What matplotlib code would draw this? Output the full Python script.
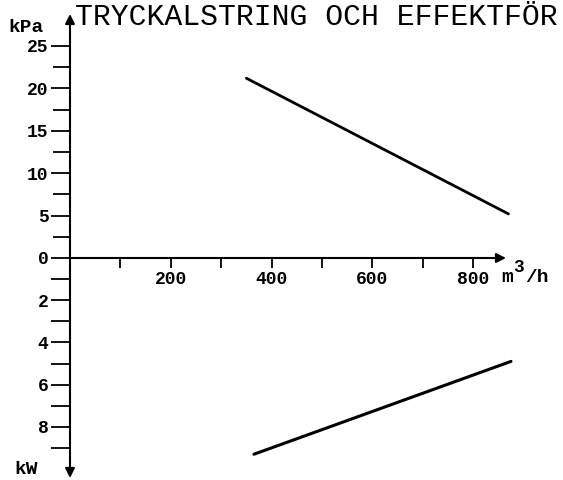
import matplotlib
matplotlib.use("Agg")
import matplotlib.pyplot as plt
from matplotlib.ticker import FixedLocator

# ---- data ----
flow_pressure = [350, 870]      # m3/h
pressure_kpa = [21.2, 5.2]      # kPa
flow_power = [365, 875]         # m3/h
power_kw = [9.3, 4.9]           # kW

x_ticks = [100, 200, 300, 400, 500, 600, 700, 800]
x_ticklabels = ["", "200", "", "400", "", "600", "", "800"]
kpa_major = [0, 5, 10, 15, 20, 25]
kpa_minor = [2.5, 7.5, 12.5, 17.5, 22.5]
kw_ticks = [1, 2, 3, 4, 5, 6, 7, 8, 9]
kw_ticklabels = ["", "2", "", "4", "", "6", "", "8", ""]
title = "TRYCKALSTRING OCH EFFEKTFÖR"

W, H = 563, 480
FONT = "Liberation Mono"

fig = plt.figure(figsize=(W / 100, H / 100), dpi=100)

# pixel geometry
x0_px, px_per_flow = 70, 0.504
y0_px = 258
px_per_kpa = 8.48
px_per_kw = 21.1

xlim = (-x0_px / px_per_flow, (W - x0_px) / px_per_flow)

ax_top = fig.add_axes([0, (H - y0_px) / H, 1, y0_px / H])
ax_bot = fig.add_axes([0, 0, 1, (H - y0_px) / H])

ax_top.set_xlim(*xlim)
ax_top.set_ylim(0, y0_px / px_per_kpa)
ax_bot.set_xlim(*xlim)
ax_bot.set_ylim((H - y0_px) / px_per_kw, 0)

for ax in (ax_top, ax_bot):
    for s in ax.spines.values():
        s.set_visible(False)
    ax.patch.set_visible(False)

lw_axis = 1.5
arrow = dict(arrowstyle="-|>", lw=lw_axis, color="black",
             mutation_scale=14, shrinkA=0, shrinkB=0)
# vertical axis (kPa up)
ax_top.annotate("", xy=(0, (y0_px - 14) / px_per_kpa), xytext=(0, 0),
                arrowprops=arrow)
# vertical axis (kW down)
ax_bot.annotate("", xy=(0, (478 - y0_px) / px_per_kw), xytext=(0, 0),
                arrowprops=arrow)
# horizontal axis
ax_top.annotate("", xy=((506 - x0_px) / px_per_flow, 0), xytext=(0, 0),
                arrowprops=arrow, annotation_clip=False)

# ticks: top axes y
ax_top.yaxis.set_major_locator(FixedLocator(kpa_major))
ax_top.yaxis.set_minor_locator(FixedLocator(kpa_minor))
ax_top.set_yticklabels([str(v) for v in kpa_major])
ax_top.tick_params(axis="y", which="both", direction="out", length=13.5,
                   width=1.3, pad=2, labelsize=13)
ax_top.tick_params(axis="y", which="minor", length=12.5)

# ticks: x on top axes (spine at y=0)
ax_top.xaxis.set_major_locator(FixedLocator(x_ticks))
ax_top.set_xticklabels(x_ticklabels)
ax_top.tick_params(axis="x", which="major", direction="out", length=7,
                   width=1.3, pad=2, labelsize=13)

# ticks: bottom axes y
ax_bot.yaxis.set_major_locator(FixedLocator(kw_ticks))
ax_bot.set_yticklabels(kw_ticklabels)
ax_bot.tick_params(axis="y", which="major", direction="out", length=13.5,
                   width=1.3, pad=2, labelsize=13)
ax_bot.set_xticks([])

ax_top.spines["left"].set_position(("data", 0))
ax_top.spines["bottom"].set_position(("data", 0))
ax_bot.spines["left"].set_position(("data", 0))

for ax in (ax_top, ax_bot):
    for lab in ax.get_xticklabels() + ax.get_yticklabels():
        lab.set_fontfamily(FONT)
        lab.set_fontweight("bold")

# data lines
ax_top.plot(flow_pressure, pressure_kpa, color="black", lw=2.0,
            solid_capstyle="round")
ax_bot.plot(flow_power, power_kw, color="black", lw=2.2,
            solid_capstyle="round")

# texts
def ftext(x, y, s, **kw):
    fig.text(x / W, 1 - y / H, s, fontfamily=FONT, **kw)

ftext(75, 17, title, fontsize=21.4, ha="left", va="center")
ftext(8, 27, "kPa", fontsize=14, fontweight="bold", ha="left", va="center")
ftext(14, 470, "kW", fontsize=14, fontweight="bold", ha="left", va="center")
# unit label: m, raised 3, /h
ftext(501, 277, "m", fontsize=14, fontweight="bold", ha="left", va="center")
ftext(513, 267, "3", fontsize=13, fontweight="bold", ha="left", va="center")
ftext(525, 277, "/h", fontsize=14, fontweight="bold", ha="left", va="center")

fig.savefig("out.png", dpi=100, facecolor="white")
